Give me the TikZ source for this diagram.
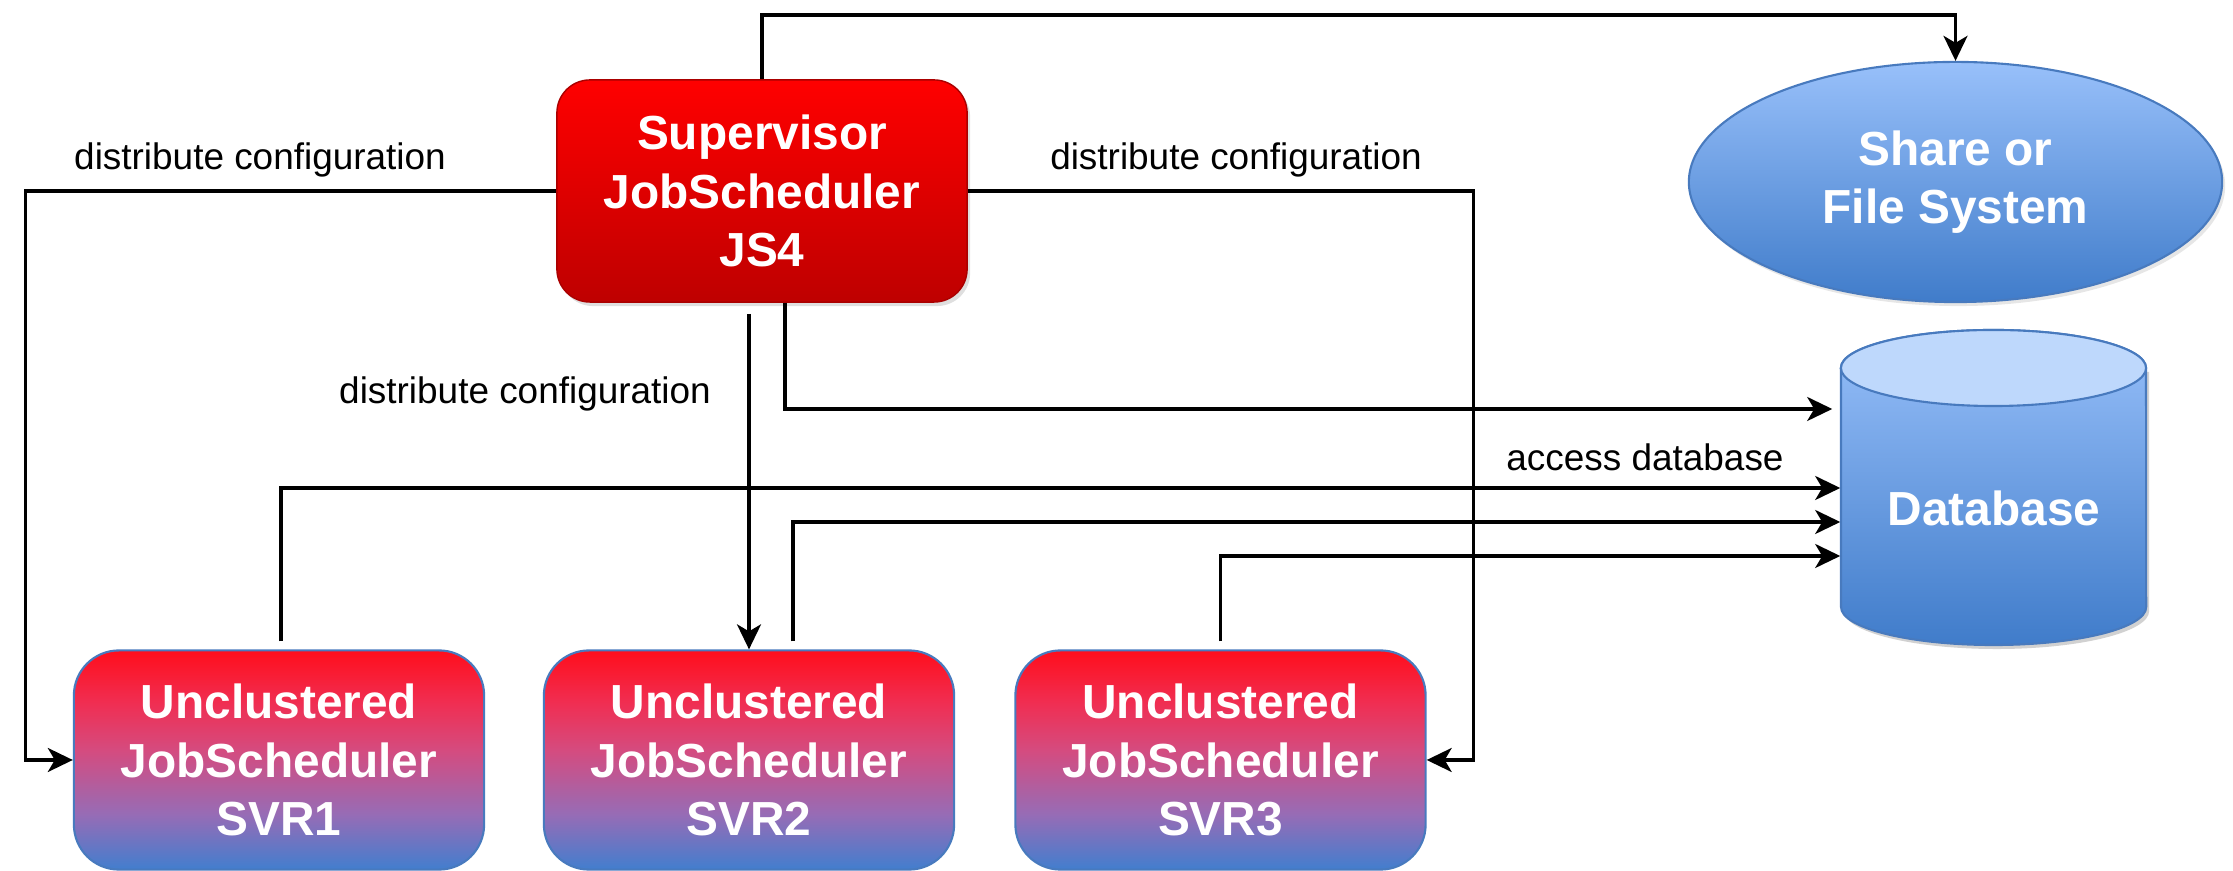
\documentclass[tikz,border=0pt]{standalone}
\usepackage{fontspec}
\setmainfont{Liberation Sans}
\usetikzlibrary{shapes.geometric, arrows.meta, shadows}
\definecolor{supTop}{RGB}{255,0,0}
\definecolor{supBot}{RGB}{190,0,0}
\definecolor{unA}{RGB}{255,14,28}
\definecolor{unB}{RGB}{240,46,82}
\definecolor{unC}{RGB}{212,76,128}
\definecolor{unD}{RGB}{150,108,182}
\definecolor{unE}{RGB}{66,126,206}
\definecolor{blTop}{RGB}{152,192,250}
\definecolor{blBot}{RGB}{64,124,202}
\definecolor{dbFace}{RGB}{190,216,252}
\definecolor{edgeBlue}{RGB}{72,122,190}
\definecolor{edgeRed}{RGB}{170,0,0}
\pgfdeclareverticalshading{unshade}{100bp}{color(0bp)=(unE); color(25bp)=(unE); color(37.5bp)=(unD); color(52bp)=(unC); color(63bp)=(unB); color(75bp)=(unA); color(100bp)=(unA)}
\tikzset{
  boxtext/.style={text=white, font=\fontsize{13.6}{16.6}\selectfont\bfseries, align=center},
  supbox/.style={boxtext, rectangle, rounded corners=0.33cm, minimum width=4.1cm, minimum height=2.22cm,
    top color=supTop, bottom color=supBot, draw=edgeRed, line width=0.4pt,
    drop shadow={opacity=0.25, shadow xshift=0.03cm, shadow yshift=-0.04cm}},
  unbox/.style={boxtext, rectangle, rounded corners=0.45cm, minimum width=4.1cm, minimum height=2.19cm,
    shading=unshade, draw=edgeBlue, line width=0.6pt},
  fsnode/.style={boxtext, ellipse, minimum width=5.33cm, minimum height=2.40cm,
    top color=blTop, bottom color=blBot, draw=edgeBlue, line width=0.6pt,
    drop shadow={opacity=0.2, shadow xshift=0.03cm, shadow yshift=-0.04cm}},
  lbl/.style={font=\fontsize{10.5}{12.6}\selectfont, inner sep=0pt},
  arr/.style={draw=black, line width=0.9pt, -{Stealth[length=0.25cm, width=0.24cm, inset=0.07cm]}}
}
\begin{document}
\begin{tikzpicture}[x=0.01cm, y=-0.01cm]
\useasboundingbox (0,0) rectangle (2233,871);

% nodes
\node[supbox] (sup) at (762,191) {Supervisor\\JobScheduler\\JS4};
\node[fsnode] (fs) at (1955.5,182) {Share or\\File System};
\node[unbox] (svr1) at (279,760) {Unclustered\\JobScheduler\\SVR1};
\node[unbox] (svr2) at (749,760) {Unclustered\\JobScheduler\\SVR2};
\node[unbox] (svr3) at (1220.5,760) {Unclustered\\JobScheduler\\SVR3};

% database cylinder
\fill[black, opacity=0.18] (1844,372) -- (1844,611) arc[start angle=180, end angle=360, x radius=1.525cm, y radius=0.38cm] -- (2149,372) -- cycle;
\path[top color=blTop, bottom color=blBot, draw=edgeBlue, line width=0.6pt]
  (1841,368) -- (1841,607) arc[start angle=180, end angle=360, x radius=1.525cm, y radius=0.38cm]
  -- (2146,368) arc[start angle=0, end angle=180, x radius=1.525cm, y radius=0.38cm] -- cycle;
\draw[fill=dbFace, draw=edgeBlue, line width=0.6pt] (1993.5,368) ellipse [x radius=1.525cm, y radius=0.38cm];
\node[inner sep=0pt, minimum width=3.05cm, minimum height=2.39cm] (db) at (1993.5,487.5) {};
\node[boxtext] (dbtext) at (1994,508) {Database};

\coordinate (topline) at (0,15);
\coordinate (dbin0) at (0,409);
\coordinate (dbin1) at (0,488);
\coordinate (dbin2) at (0,522);
\coordinate (dbin3) at (0,556);

% labels
\node[lbl] (l1) at (260,160) {distribute configuration};
\node[lbl] (l2) at (1236,160) {distribute configuration};
\node[lbl] (l3) at (525,394) {distribute configuration};
\node[lbl] (l4) at (1645,457) {access database};

% connectors
\draw[arr] (sup.north) -- (sup.north |- topline) -| (fs.north);
\draw[arr] (sup.west) -- ++(-531,0) |- (svr1.west);
\draw[arr] (sup.east) -- ++(506,0) |- (svr3.east);
\draw[arr, shorten <=0.11cm] (svr2.north |- sup.south) -- (svr2.north);
\draw[arr, shorten >=0.08cm] ([xshift=0.23cm]sup.south) |- (db.west |- dbin0);
\draw[arr, shorten <=0.08cm] ([xshift=0.02cm]svr1.north) |- (db.west |- dbin1);
\draw[arr, shorten <=0.08cm] ([xshift=0.44cm]svr2.north) |- (db.west |- dbin2);
\draw[arr, shorten <=0.08cm] (svr3.north) |- (db.west |- dbin3);
\end{tikzpicture}
\end{document}
